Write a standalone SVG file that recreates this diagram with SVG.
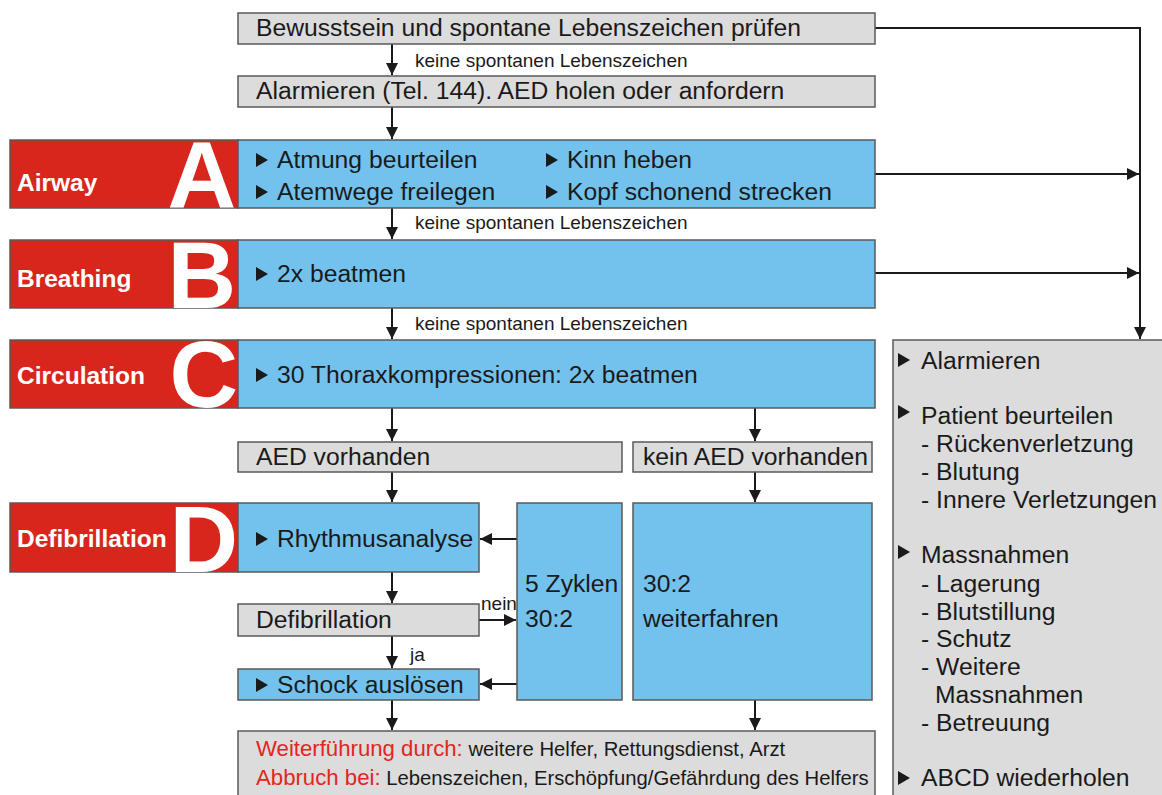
<svg xmlns="http://www.w3.org/2000/svg" width="1162" height="795" viewBox="0 0 1162 795">
<style>
.g{fill:#dcdcdc;stroke:#5a5a5a;stroke-width:1.5}
.b{fill:#73c2ee;stroke:#5a5a5a;stroke-width:1.5}
.r{fill:#d8261d;stroke:#5a5a5a;stroke-width:1.5}
.t{font-family:"Liberation Sans",Arial,sans-serif;font-size:24.7px;fill:#1a1a1a}
.s{font-family:"Liberation Sans",Arial,sans-serif;font-size:19px;fill:#1a1a1a}
.e{font-family:"Liberation Sans",Arial,sans-serif;font-size:20.3px;fill:#1a1a1a}
.lab{font-family:"Liberation Sans",Arial,sans-serif;font-size:24.5px;font-weight:bold;fill:#fff}
.big{font-family:"Liberation Sans",Arial,sans-serif;font-size:95px;font-weight:bold;fill:#fff;text-anchor:end}
.red{fill:#e1261d;font-size:22.2px}
.c{fill:none;stroke:#1a1a1a;stroke-width:2}
</style>
<defs>
<marker id="ah" markerUnits="userSpaceOnUse" markerWidth="14" markerHeight="14" refX="12" refY="6" orient="auto">
<path d="M0,0 L12,6 L0,12 z" fill="#1a1a1a"/>
</marker>
<path id="tri" d="M0,-7 L12,0 L0,7 z" fill="#1a1a1a"/>
</defs>

<g id="connectors">
<path class="c" d="M392,44 V75" marker-end="url(#ah)"/>
<path class="c" d="M392,107 V139" marker-end="url(#ah)"/>
<path class="c" d="M392,208 V239" marker-end="url(#ah)"/>
<path class="c" d="M392,308 V339" marker-end="url(#ah)"/>
<path class="c" d="M392,408 V441" marker-end="url(#ah)"/>
<path class="c" d="M755,408 V441" marker-end="url(#ah)"/>
<path class="c" d="M392,472 V502" marker-end="url(#ah)"/>
<path class="c" d="M755,472 V502" marker-end="url(#ah)"/>
<path class="c" d="M392,572 V603" marker-end="url(#ah)"/>
<path class="c" d="M392,636 V668" marker-end="url(#ah)"/>
<path class="c" d="M392,700 V730" marker-end="url(#ah)"/>
<path class="c" d="M755,700 V730" marker-end="url(#ah)"/>
<path class="c" d="M517,539 H480" marker-end="url(#ah)"/>
<path class="c" d="M479,620 H516" marker-end="url(#ah)"/>
<path class="c" d="M517,684 H480" marker-end="url(#ah)"/>
<path class="c" d="M875,28 H1140 V339" marker-end="url(#ah)"/>
<path class="c" d="M875,174 H1139" marker-end="url(#ah)"/>
<path class="c" d="M875,273 H1139" marker-end="url(#ah)"/>
<text class="s" x="415" y="67">keine spontanen Lebenszeichen</text>
<text class="s" x="415" y="229">keine spontanen Lebenszeichen</text>
<text class="s" x="415" y="330">keine spontanen Lebenszeichen</text>
<text class="s" x="481" y="610">nein</text>
<text class="s" x="410" y="661">ja</text>
</g>

<g id="check">
<rect class="g" x="238" y="13" width="637" height="31"/>
<text class="t" x="256" y="36">Bewusstsein und spontane Lebenszeichen prüfen</text>
</g>
<g id="alarm">
<rect class="g" x="238" y="76" width="637" height="31"/>
<text class="t" x="256" y="99">Alarmieren (Tel. 144). AED holen oder anfordern</text>
</g>

<g id="airway">
<rect class="r" x="10" y="140" width="228" height="68"/>
<text class="big" x="236" y="208">A</text>
<rect class="b" x="238" y="140" width="637" height="68"/>
<text class="lab" x="17" y="191">Airway</text>
<use href="#tri" x="256" y="160"/>
<text class="t" x="277" y="168">Atmung beurteilen</text>
<use href="#tri" x="256" y="192"/>
<text class="t" x="277" y="200">Atemwege freilegen</text>
<use href="#tri" x="546" y="160"/>
<text class="t" x="567" y="168">Kinn heben</text>
<use href="#tri" x="546" y="192"/>
<text class="t" x="567" y="200">Kopf schonend strecken</text>
</g>

<g id="breathing">
<rect class="r" x="10" y="240" width="228" height="68"/>
<text class="big" x="236" y="308">B</text>
<rect class="b" x="238" y="240" width="637" height="68"/>
<text class="lab" x="17" y="287">Breathing</text>
<use href="#tri" x="256" y="274"/>
<text class="t" x="277" y="282">2x beatmen</text>
</g>

<g id="circulation">
<rect class="r" x="10" y="340" width="228" height="68"/>
<text class="big" x="238" y="407">C</text>
<rect class="b" x="238" y="340" width="637" height="68"/>
<text class="lab" x="17" y="384">Circulation</text>
<use href="#tri" x="256" y="375"/>
<text class="t" x="277" y="383">30 Thoraxkompressionen: 2x beatmen</text>
</g>

<g id="aed">
<rect class="g" x="238" y="442" width="384" height="30"/>
<text class="t" x="256" y="465">AED vorhanden</text>
</g>
<g id="noaed">
<rect class="g" x="633" y="442" width="239" height="30"/>
<text class="t" x="643" y="465">kein AED vorhanden</text>
</g>

<g id="defib">
<rect class="r" x="10" y="503" width="228" height="69"/>
<text class="big" x="238" y="572">D</text>
<rect class="b" x="238" y="503" width="241" height="69"/>
<text class="lab" x="17" y="547">Defibrillation</text>
<use href="#tri" x="256" y="539"/>
<text class="t" x="277" y="547">Rhythmusanalyse</text>
</g>

<g id="cycles">
<rect class="b" x="517" y="503" width="105" height="197"/>
<text class="t" x="525" y="592">5 Zyklen</text>
<text class="t" x="525" y="627">30:2</text>
</g>
<g id="continue">
<rect class="b" x="633" y="503" width="239" height="197"/>
<text class="t" x="643" y="592">30:2</text>
<text class="t" x="643" y="627">weiterfahren</text>
</g>

<g id="defibq">
<rect class="g" x="238" y="604" width="241" height="32"/>
<text class="t" x="256" y="628">Defibrillation</text>
</g>
<g id="shock">
<rect class="b" x="238" y="669" width="241" height="31"/>
<use href="#tri" x="256" y="685"/>
<text class="t" x="277" y="693">Schock auslösen</text>
</g>

<g id="end">
<rect class="g" x="238" y="731" width="637" height="70"/>
<text class="e" x="256" y="756"><tspan class="red">Weiterführung durch:</tspan> weitere Helfer, Rettungsdienst, Arzt</text>
<text class="e" x="256" y="785"><tspan class="red">Abbruch bei:</tspan> Lebenszeichen, Erschöpfung/Gefährdung des Helfers</text>
</g>

<g id="side">
<rect class="g" x="893" y="340" width="280" height="470"/>
<use href="#tri" x="898" y="360"/>
<text class="t" x="921" y="369">Alarmieren</text>
<use href="#tri" x="898" y="412"/>
<text class="t" x="921" y="424">Patient beurteilen</text>
<text class="t" x="921" y="452">- Rückenverletzung</text>
<text class="t" x="921" y="480">- Blutung</text>
<text class="t" x="921" y="508">- Innere Verletzungen</text>
<use href="#tri" x="898" y="552"/>
<text class="t" x="921" y="563">Massnahmen</text>
<text class="t" x="921" y="592">- Lagerung</text>
<text class="t" x="921" y="620">- Blutstillung</text>
<text class="t" x="921" y="647">- Schutz</text>
<text class="t" x="921" y="675">- Weitere</text>
<text class="t" x="935" y="703">Massnahmen</text>
<text class="t" x="921" y="731">- Betreuung</text>
<use href="#tri" x="898" y="778"/>
<text class="t" x="921" y="786">ABCD wiederholen</text>
</g>
</svg>
